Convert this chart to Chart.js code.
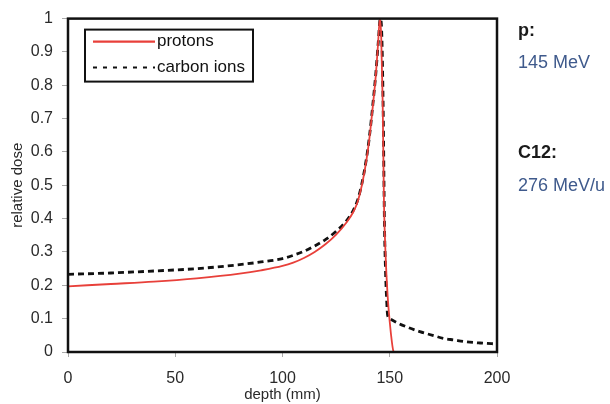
<!DOCTYPE html>
<html lang="en">
<head>
    <meta charset="UTF-8">
    <title>Bragg peak</title>
    <script src="https://cdn.jsdelivr.net/npm/chart.js"></script>
    <style>
        body { margin: 0; background: #fff; }
        #wrap { width: 610px; height: 404px; }
    </style>
</head>
<body>
    <div id="wrap"><canvas id="myChart" width="610" height="404"></canvas></div>
    <script>
        // depth (mm) and relative dose
        const protonDepth = [0, 20, 40, 60, 80, 90, 100, 105, 110, 115, 120, 125, 130, 133, 135, 137, 139, 140.5, 142, 143.5, 144.5, 145.4, 146, 146.7, 147.3, 148, 149, 150, 151, 151.6, 152];
        const protonDose  = [0.197, 0.204, 0.211, 0.221, 0.235, 0.245, 0.258, 0.268, 0.282, 0.3, 0.323, 0.352, 0.39, 0.42, 0.45, 0.5, 0.57, 0.64, 0.73, 0.83, 0.92, 1.0, 0.95, 0.75, 0.45, 0.3, 0.17, 0.09, 0.03, 0.005, 0];

        const carbonDepth = [0, 20, 40, 60, 80, 90, 100, 105, 110, 115, 120, 125, 130, 133, 135, 137, 139, 140.5, 142, 143.5, 144.6, 145.6, 146.3, 147, 147.5, 148, 148.6, 149, 150, 154, 158, 164, 170, 175, 180, 185, 192, 200];
        const carbonDose  = [0.233, 0.237, 0.243, 0.25, 0.262, 0.27, 0.28, 0.29, 0.302, 0.318, 0.337, 0.362, 0.395, 0.425, 0.455, 0.505, 0.575, 0.645, 0.735, 0.835, 0.925, 1.0, 0.95, 0.7, 0.4, 0.25, 0.15, 0.11, 0.1, 0.086, 0.075, 0.061, 0.05, 0.041, 0.036, 0.031, 0.027, 0.024];

        const seriesNames = ['protons', 'carbon ions'];
        const xTicks = [0, 50, 100, 150, 200];
        const sideNotes = [
            { text: 'p:', bold: true },
            { text: '145 MeV', bold: false },
            { text: 'C12:', bold: true },
            { text: '276 MeV/u', bold: false }
        ];

        const FONT = '"Liberation Sans", Arial, sans-serif';
        const RED = '#e8403a';

        function toPoints(xs, ys) {
            return xs.map((x, i) => ({ x: x, y: ys[i] }));
        }

        // frame, legend box and text at the right
        const extras = {
            id: 'extras',
            afterDatasetsDraw(chart) {
                const ctx = chart.ctx;
                const a = chart.chartArea;
                ctx.save();
                ctx.strokeStyle = '#111';
                ctx.lineWidth = 2.5;
                ctx.strokeRect(a.left, a.top, a.right - a.left, a.bottom - a.top);

                // legend
                const lx = a.left + 17, ly = a.top + 11;
                ctx.lineWidth = 2;
                ctx.fillStyle = '#fff';
                ctx.fillRect(lx, ly, 168, 52);
                ctx.strokeRect(lx, ly, 168, 52);
                ctx.lineWidth = 2.2;
                ctx.strokeStyle = RED;
                ctx.beginPath();
                ctx.moveTo(lx + 8, ly + 12);
                ctx.lineTo(lx + 70, ly + 12);
                ctx.stroke();
                ctx.strokeStyle = '#111';
                ctx.lineWidth = 2;
                ctx.setLineDash([4, 6]);
                ctx.beginPath();
                ctx.moveTo(lx + 8, ly + 38);
                ctx.lineTo(lx + 70, ly + 38);
                ctx.stroke();
                ctx.setLineDash([]);
                ctx.fillStyle = '#111';
                ctx.font = '17px ' + FONT;
                ctx.textBaseline = 'middle';
                ctx.fillText(seriesNames[0], lx + 72, ly + 12);
                ctx.fillText(seriesNames[1], lx + 72, ly + 38);

                // notes
                const ys = [31, 63, 153, 186];
                sideNotes.forEach((n, i) => {
                    ctx.font = (n.bold ? 'bold ' : '') + '18px ' + FONT;
                    ctx.fillStyle = n.bold ? '#1a1a1a' : '#3f5a8c';
                    ctx.fillText(n.text, 518, ys[i]);
                });
                ctx.restore();
            }
        };

        const ctx = document.getElementById('myChart').getContext('2d');
        const myChart = new Chart(ctx, {
            type: 'line',
            data: {
                datasets: [{
                    label: seriesNames[0],
                    data: toPoints(protonDepth, protonDose),
                    borderColor: RED,
                    borderWidth: 1.8,
                    pointRadius: 0,
                    cubicInterpolationMode: 'monotone',
                    fill: false
                }, {
                    label: seriesNames[1],
                    data: toPoints(carbonDepth, carbonDose),
                    borderColor: '#111',
                    borderWidth: 2.8,
                    borderDash: [6, 4],
                    pointRadius: 0,
                    cubicInterpolationMode: 'monotone',
                    fill: false
                }]
            },
            options: {
                responsive: false,
                animation: false,
                layout: { padding: { top: 17, right: 113, left: 0, bottom: 0 } },
                plugins: { legend: { display: false }, tooltip: { enabled: false } },
                scales: {
                    x: {
                        type: 'linear',
                        min: 0,
                        max: 200,
                        afterBuildTicks: s => { s.ticks = xTicks.map(v => ({ value: v })); },
                        afterFit: s => { s.height = 52; },
                        grid: { drawOnChartArea: false, tickLength: 5, color: '#aaa' },
                        border: { display: false },
                        ticks: { color: '#2a2a2a', font: { family: FONT, size: 16 }, padding: 12, maxRotation: 0 },
                        title: { display: true, text: 'depth (mm)', color: '#2a2a2a', font: { family: FONT, size: 15 }, padding: { top: 0, bottom: 0 } }
                    },
                    y: {
                        min: 0,
                        max: 1,
                        ticks: {
                            stepSize: 0.1,
                            color: '#2a2a2a',
                            font: { family: FONT, size: 16 },
                            padding: 9,
                            callback: v => Math.round(v * 10) / 10
                        },
                        afterFit: s => { s.width = 68; },
                        grid: { drawOnChartArea: false, tickLength: 6, color: '#aaa' },
                        border: { display: false },
                        title: { display: true, text: 'relative dose', color: '#2a2a2a', font: { family: FONT, size: 15 }, padding: { top: 9, bottom: 0 } }
                    }
                }
            },
            plugins: [extras]
        });
    </script>
</body>
</html>
